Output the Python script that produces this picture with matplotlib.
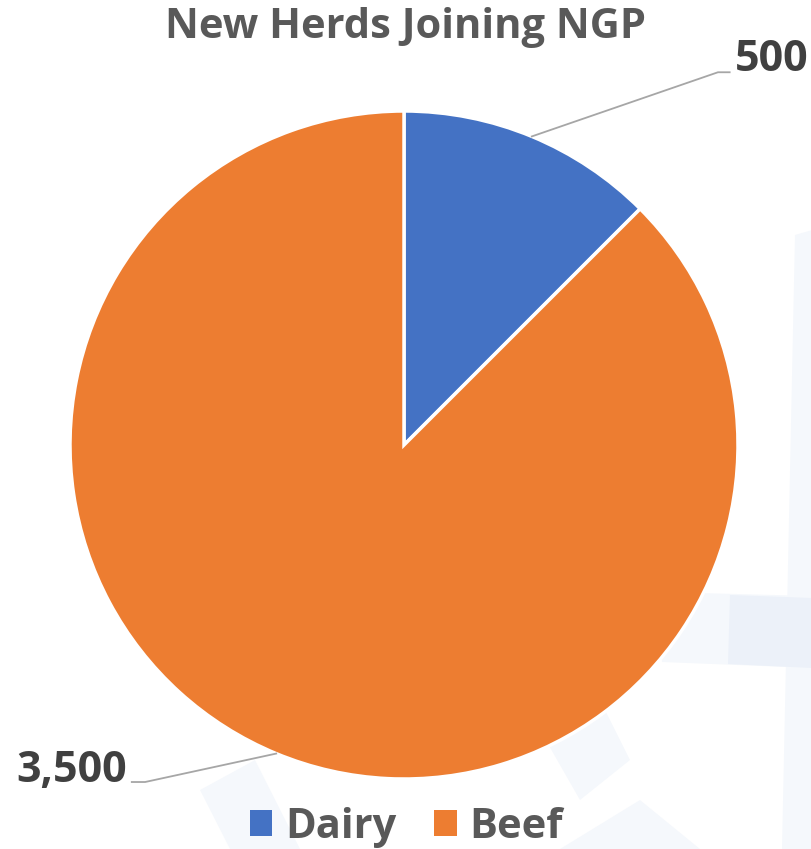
import numpy as np
import matplotlib.pyplot as plt
from matplotlib.patches import Patch, Polygon

# datos del grafico
categorias = ['Dairy', 'Beef']
valores = [500, 3500]
etiquetas = ['500', '3,500']
colores = ['#4472C4', '#ED7D31']

plt.rcParams['font.family'] = ['Open Sans', 'DejaVu Sans']

W, H = 812, 849
fig = plt.figure(figsize=(W / 100, H / 100), dpi=100)
fig.patch.set_facecolor('white')

# marca de agua tenue del fondo (coordenadas en pixeles de la figura)
def poly_px(pts, color):
    pts = [(x / W, 1 - y / H) for x, y in pts]
    fig.patches.append(Polygon(pts, closed=True, transform=fig.transFigure,
                               facecolor=color, edgecolor='none', zorder=0))

poly_px([(795, 235), (812, 230), (812, 849), (782, 849)], '#f5f8fc')
poly_px([(660, 592), (812, 596), (812, 668), (662, 662)], '#f5f8fc')
poly_px([(730, 595), (812, 598), (812, 668), (728, 664)], '#ecf1f9')
poly_px([(200, 790), (255, 760), (300, 849), (230, 849)], '#f5f8fc')
poly_px([(540, 730), (600, 700), (630, 760), (580, 800)], '#f5f8fc')
poly_px([(560, 849), (640, 800), (700, 849)], '#f5f8fc')

# ejes del pastel: centro (404, 445), radio 334 px
cx, cy, r = 404, 445, 334
ax = fig.add_axes([(cx - r) / W, 1 - (cy + r) / H, 2 * r / W, 2 * r / H])
ax.set_zorder(2)
ax.set_facecolor('none')
wedges, _ = ax.pie(valores, colors=colores, startangle=90, counterclock=False,
                   radius=1, wedgeprops=dict(edgecolor='white', linewidth=2.5))
ax.set_xlim(-1, 1)
ax.set_ylim(-1, 1)
ax.set_aspect('equal')
ax.axis('off')

# etiquetas con lineas guia
pos_texto = [((0.99, 1.155), 'left'), ((-0.83, -0.975), 'right')]
codos = [(0.94, 1.116), (-0.775, -1.009)]
for w, lab, (pt, ha), codo in zip(wedges, etiquetas, pos_texto, codos):
    ang = np.deg2rad((w.theta1 + w.theta2) / 2)
    x0, y0 = np.cos(ang), np.sin(ang)
    xe = codo[0] + (0.035 if ha == 'left' else -0.04)
    ax.plot([x0, codo[0], xe], [y0, codo[1], codo[1]], color='#a6a6a6',
            lw=1.3, clip_on=False)
    ax.text(pt[0], pt[1], lab, ha=ha, va='center', fontsize=31,
            fontweight='bold', color='#404040')

fig.text(0.5, 1 - 28 / H, 'New Herds Joining NGP', ha='center', va='center',
         fontsize=30, fontweight='bold', color='#595959')

handles = [Patch(facecolor=c, label=n) for c, n in zip(colores, categorias)]
fig.legend(handles=handles, loc='center', bbox_to_anchor=(0.5, 1 - 827 / H),
           ncol=2, frameon=False, handlelength=0.55, handleheight=0.6,
           handletextpad=0.3, columnspacing=0.9, labelcolor='#595959',
           prop=dict(weight='bold', size=30))

fig.savefig('out.png', dpi=100)
